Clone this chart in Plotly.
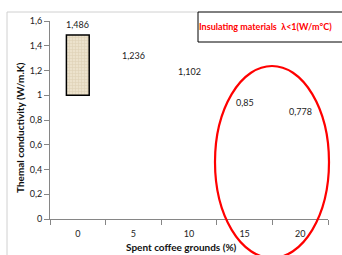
import plotly.graph_objects as go

categories = ["0", "5", "10", "15", "20"]
values = [1.486, 1.236, 1.102, 0.85, 0.778]
value_labels = ["1,486", "1,236", "1,102", "0,85", "0,778"]
bar_base = 1.0
y_ticks = [0, 0.2, 0.4, 0.6, 0.8, 1, 1.2, 1.4, 1.6]
y_tick_labels = ["0", "0,2", "0,4", "0,6", "0,8", "1", "1,2", "1,4", "1,6"]

FONT = "Lato, Liberation Sans Narrow, sans-serif"

fig = go.Figure()
fig.add_trace(go.Bar(
    x=[categories[0]], y=[values[0] - bar_base], base=[bar_base],
    width=0.41,
    marker=dict(color="#ece2cc", line=dict(color="black", width=1.5),
                pattern=dict(shape="+", fgcolor="#cfc0a0", size=3, solidity=0.35)),
    showlegend=False, hoverinfo="skip",
))
fig.add_trace(go.Scatter(x=categories, y=values, mode="markers",
                         marker=dict(opacity=0), showlegend=False, hoverinfo="skip"))

for i, (v, t) in enumerate(zip(values, value_labels)):
    fig.add_annotation(x=i, y=v, text=t, showarrow=False, yshift=11,
                       xanchor="center", yanchor="middle",
                       font=dict(family=FONT, size=9, color="#222"))

def px_x(p):
    return (p - 50) / 278.0

def px_y(p):
    return (219 - p) / 198.0

shapes = [
    dict(type="line", xref="paper", yref="paper", x0=px_x(7), x1=px_x(7), y0=px_y(12), y1=px_y(260),
         line=dict(color="#d0d0d0", width=1)),
    dict(type="line", xref="paper", yref="paper", x0=px_x(7), x1=px_x(198), y0=px_y(12), y1=px_y(12),
         line=dict(color="#d0d0d0", width=1)),
    dict(type="rect", xref="paper", yref="paper", x0=px_x(198), x1=px_x(345), y0=px_y(12), y1=px_y(42),
         line=dict(color="black", width=1), fillcolor="white"),
    dict(type="circle", xref="paper", yref="paper", x0=px_x(215), x1=px_x(329), y0=px_y(258), y1=px_y(66),
         line=dict(color="#ff0000", width=2.2)),
]
fig.update_layout(shapes=shapes)

fig.add_annotation(xref="paper", yref="paper", x=px_x(265), y=px_y(26), text="<b>Insulating materials  λ<1(W/m°C)</b>",
                   showarrow=False, xanchor="center", yanchor="middle",
                   font=dict(family=FONT, size=9, color="#ff0000"))
fig.add_annotation(xref="paper", yref="paper", x=px_x(181), y=px_y(247), text="<b>Spent coffee grounds (%)</b>",
                   showarrow=False, xanchor="center", yanchor="middle",
                   font=dict(family=FONT, size=10, color="#111"))
fig.add_annotation(xref="paper", yref="paper", x=px_x(20), y=px_y(128), text="<b>Themal conductivity (W/m.K)</b>",
                   showarrow=False, textangle=-90, xanchor="center", yanchor="middle",
                   font=dict(family=FONT, size=10, color="#111"))

fig.update_layout(
    width=342, height=255,
    margin=dict(l=50, r=14, t=21, b=36, autoexpand=False),
    paper_bgcolor="white", plot_bgcolor="white",
    font=dict(family=FONT, size=9, color="#222"),
    showlegend=False,
    xaxis=dict(type="category", categoryorder="array", categoryarray=categories,
               range=[-0.5, 4.5], showline=True, linecolor="#868686", linewidth=1,
               ticks="outside", tickson="boundaries", ticklen=5, tickcolor="#868686",
               ticklabelstandoff=6,
               showgrid=False, zeroline=False, tickfont=dict(size=9), automargin=False),
    yaxis=dict(range=[0, 1.6], tickvals=y_ticks, ticktext=y_tick_labels,
               showline=True, linecolor="#868686", linewidth=1,
               ticks="outside", ticklen=5, tickcolor="#868686",
               showgrid=False, zeroline=False, tickfont=dict(size=9), automargin=False),
)

fig.write_html("out.html", config={"displayModeBar": False},
               post_script="document.body.style.margin='0';")
